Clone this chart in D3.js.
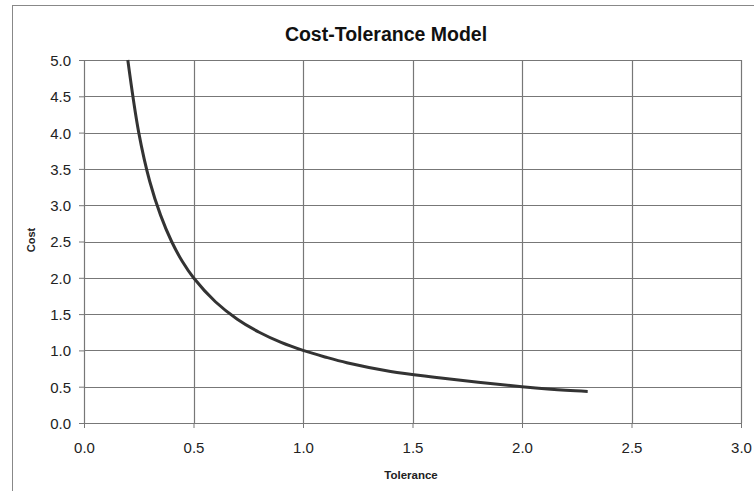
<!DOCTYPE html>
<html><head><meta charset="utf-8">
<script src="https://cdn.jsdelivr.net/npm/d3@7"></script>
<style>body{margin:0;background:#fff}svg{display:block}</style>
</head><body>
<svg id="c" width="754" height="491"></svg>
<script>
const tolerance = [0.2, 0.25, 0.3, 0.35, 0.4, 0.45, 0.5, 0.6, 0.7, 0.8, 0.9, 1.0, 1.1, 1.2, 1.4, 1.6, 1.8, 2.0, 2.2, 2.3];
const cost      = [5.0, 4.0, 3.33, 2.86, 2.5, 2.22, 2.0, 1.67, 1.43, 1.25, 1.11, 1.0, 0.91, 0.83, 0.71, 0.63, 0.56, 0.5, 0.45, 0.435];
const xTicks = [0, 0.5, 1.0, 1.5, 2.0, 2.5, 3.0];
const yTicks = [0, 0.5, 1.0, 1.5, 2.0, 2.5, 3.0, 3.5, 4.0, 4.5, 5.0];
const title = "Cost-Tolerance Model";
const xLabel = "Tolerance";
const yLabel = "Cost";

const FONT = "Liberation Sans, Arial, sans-serif";
const svg = d3.select("#c");
const L = 84, R = 741, T = 60, B = 423;
const x = d3.scaleLinear().domain([0, 3]).range([L, R]);
const y = d3.scaleLinear().domain([0, 5]).range([B, T]);

// outer chart border
svg.append("rect").attr("x", 12.5).attr("y", 5.5).attr("width", 800).attr("height", 600)
  .attr("fill", "#fff").attr("stroke", "#888").attr("stroke-width", 1);

// plot area
svg.append("rect").attr("x", L).attr("y", T).attr("width", R - L).attr("height", B - T).attr("fill", "#fff");

// gridlines
svg.append("g").selectAll("line").data(yTicks).join("line")
  .attr("x1", L).attr("x2", R).attr("y1", d => Math.round(y(d)) + 0.5).attr("y2", d => Math.round(y(d)) + 0.5)
  .attr("stroke", "#777").attr("stroke-width", 1.2);
svg.append("g").selectAll("line").data(xTicks).join("line")
  .attr("y1", T).attr("y2", B).attr("x1", d => Math.round(x(d)) + 0.5).attr("x2", d => Math.round(x(d)) + 0.5)
  .attr("stroke", "#777").attr("stroke-width", 1.2);

// axes
const xa = svg.append("g").attr("transform", `translate(0,${B})`)
  .call(d3.axisBottom(x).tickValues(xTicks).tickFormat(d3.format(".1f")).tickSize(5).tickSizeOuter(0));
const ya = svg.append("g").attr("transform", `translate(${L},0)`)
  .call(d3.axisLeft(y).tickValues(yTicks).tickFormat(d3.format(".1f")).tickSize(5).tickSizeOuter(0));
[xa, ya].forEach(a => {
  a.select(".domain").attr("stroke", "#777");
  a.selectAll(".tick line").attr("stroke", "#777");
  a.selectAll("text").attr("font-family", FONT).attr("font-size", 15).attr("fill", "#222");
});
xa.selectAll("text").attr("y", 30).attr("dy", 0);
ya.selectAll("text").attr("x", -13).attr("dy", "0.36em");

// curve
const pts = tolerance.map((t, i) => [t, cost[i]]);
svg.append("path").datum(pts)
  .attr("d", d3.line().x(d => x(d[0])).y(d => y(d[1])).curve(d3.curveCatmullRom))
  .attr("fill", "none").attr("stroke", "#333").attr("stroke-width", 3);

// titles
svg.append("text").attr("x", 386).attr("y", 41).attr("text-anchor", "middle")
  .attr("font-family", FONT).attr("font-weight", "bold").attr("font-size", 19.5).attr("fill", "#111").text(title);
svg.append("text").attr("x", 411).attr("y", 479).attr("text-anchor", "middle")
  .attr("font-family", FONT).attr("font-weight", "bold").attr("font-size", 11.5).attr("fill", "#222").text(xLabel);
svg.append("text").attr("transform", `translate(35,240) rotate(-90)`).attr("text-anchor", "middle")
  .attr("font-family", FONT).attr("font-weight", "bold").attr("font-size", 11).attr("fill", "#222").text(yLabel);
</script>
</body></html>
